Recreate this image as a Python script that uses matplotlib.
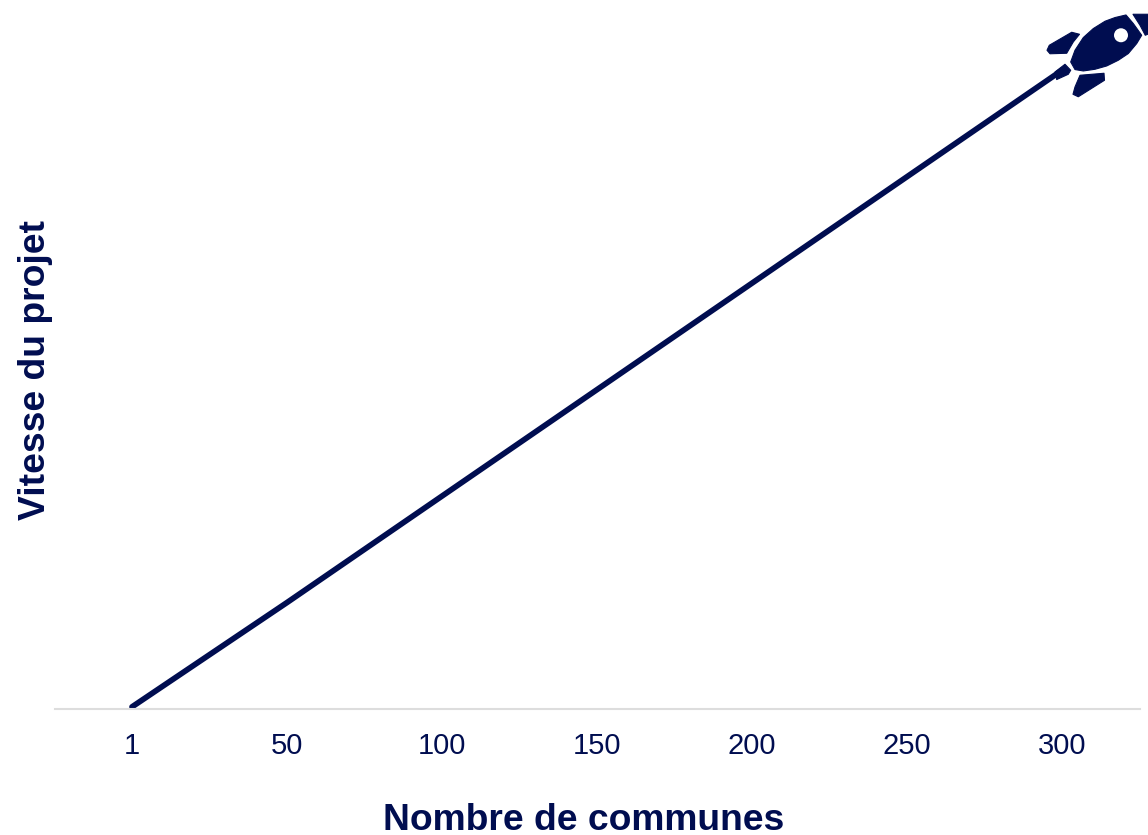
import matplotlib
matplotlib.use('Agg')
import matplotlib.pyplot as plt
from matplotlib.patches import PathPatch
from matplotlib.path import Path
from matplotlib.transforms import Affine2D

plt.rcParams['font.family'] = ['Liberation Sans', 'DejaVu Sans']

NAVY = '#000d50'
W, H = 1148, 835

# chart data
communes = ['1', '50', '100', '150', '200', '250', '300']
vitesse = [1, 50, 100, 150, 200, 250, 300]

# rocket icon outlines, in px around the last point of the line (y up)
rocket_body = [(8.7, 8.3), (13, 20), (21.3, 32.7), (31.3, 41.7), (43, 49), (53, 52.7), (64, 55.3),
               (71.3, 46.7), (79.7, 35), (74.7, 26.7), (66.3, 16.7), (56.3, 10), (44.7, 4.3),
               (33, 1), (21.3, -0.7), (13, 0.7)]
rocket_nose = [(71, 56), (95, 56), (95, 40), (83.3, 35), (78, 45)]
rocket_fin_top = [(-15, 20), (-12.7, 25), (9.7, 38), (17.5, 36), (11.3, 28.3), (4.7, 17), (-12, 16.5)]
rocket_fin_bottom = [(18, -5), (42, -3), (42.5, -10), (16.3, -26.5), (11, -24), (13, -16.7)]
rocket_tail = [(-7, -1.7), (3, 6), (8.7, 0), (6.3, -4), (-5.3, -9.3)]


def draw_shape(ax, pts, offset):
    codes = [Path.MOVETO] + [Path.LINETO] * (len(pts) - 1) + [Path.CLOSEPOLY]
    path = Path(pts + [pts[0]], codes)
    ax.add_patch(PathPatch(path, transform=offset, facecolor=NAVY, edgecolor=NAVY,
                           linewidth=0.8, joinstyle='round', clip_on=False))


fig = plt.figure(figsize=(W / 100, H / 100), dpi=100)
ax = fig.add_axes([54.5 / W, (H - 709) / H, (1139.5 - 54.5) / W, 709 / H])

x = list(range(len(communes)))
ax.plot(x, vitesse, color=NAVY, linewidth=4.1, solid_capstyle='round', clip_on=False)

ax.set_xlim(-0.5, 6.5)
ax.set_ylim(0, 333)
ax.set_xticks(x)
ax.set_xticklabels(communes)
ax.set_yticks([])
ax.tick_params(axis='x', length=0, pad=16.5, labelsize=21, labelcolor=NAVY)

for side in ['top', 'right', 'left']:
    ax.spines[side].set_visible(False)
ax.spines['bottom'].set_color('#dddddd')
ax.spines['bottom'].set_linewidth(1.5)

ax.set_xlabel('Nombre de communes', fontsize=26.8, fontweight='bold', color=NAVY)
ax.xaxis.set_label_coords(0.488, -0.133, transform=ax.transAxes)
ax.set_ylabel('Vitesse du projet', fontsize=26.8, fontweight='bold', color=NAVY)
ax.yaxis.set_label_coords(-0.0015, 0.478, transform=ax.transAxes)

# rocket sits at the end of the line
px, py = ax.transData.transform((x[-1], vitesse[-1]))
offset = Affine2D().translate(px, py)
for shape in [rocket_body, rocket_nose, rocket_fin_top, rocket_fin_bottom, rocket_tail]:
    draw_shape(ax, shape, offset)
ax.add_patch(PathPatch(Path.circle((59, 35), 7), transform=offset, facecolor='white',
                       edgecolor='none', clip_on=False, zorder=5))

fig.savefig('out.png', dpi=100)
